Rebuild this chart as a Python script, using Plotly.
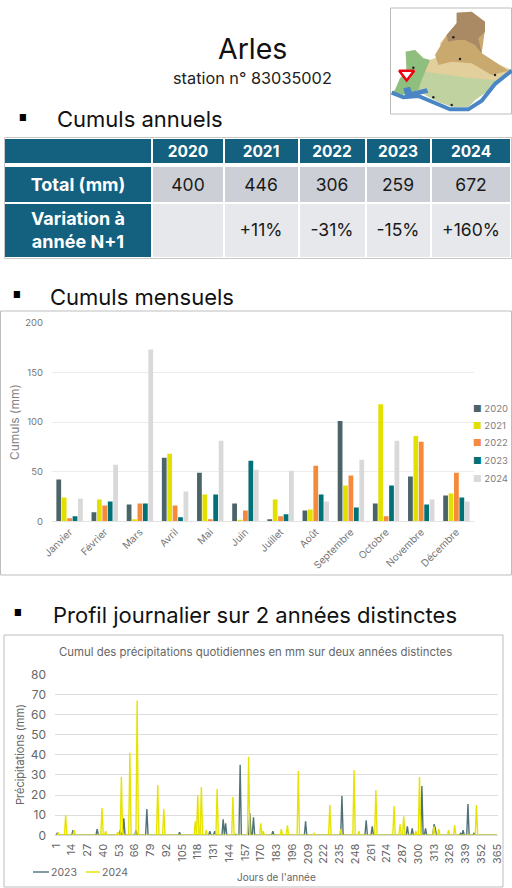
import plotly.graph_objects as go

W, H = 512, 888
FONT = "Inter"

def px(x): return x / W
def py(y): return 1 - y / H

# ---- table data
table_header = ["", "2020", "2021", "2022", "2023", "2024"]
row_labels = ["Total (mm)", "Variation à<br>année N+1"]
totals = ["400", "446", "306", "259", "672"]
variations = ["", "+11%", "-31%", "-15%", "+160%"]
col_edges = [4, 151.5, 223.5, 299, 365.5, 430.5, 511]
row_edges = [138, 163.5, 166, 203, 257.5]

# ---- monthly data
months = ["Janvier", "Février", "Mars", "Avril", "Mai", "Juin", "Juillet", "Août",
          "Septembre", "Octobre", "Novembre", "Décembre"]
m2020 = [42, 9, 17, 64, 49, 18, 2, 11, 101, 18, 45, 26]
m2021 = [24, 22, 2, 68, 27, 1, 22, 12, 36, 118, 86, 28]
m2022 = [3, 16, 18, 16, 2, 11, 5, 56, 46, 5, 80, 49]
m2023 = [5, 20, 18, 4, 27, 61, 7, 27, 14, 36, 17, 24]
m2024 = [23, 57, 173, 30, 81, 52, 51, 20, 62, 81, 22, 20]
year_names = ["2020", "2021", "2022", "2023", "2024"]
year_colors = ["#4A6468", "#E3E000", "#F58A3A", "#007176", "#D9D9D9"]

# ---- daily data (days with rain only)
days_2023 = [2, 15, 35, 54, 57, 67, 76, 103, 128, 132, 139, 141, 149, 153, 161, 164, 180,
             207, 237, 257, 262, 291, 295, 303, 306, 313, 314, 335, 337, 341, 346]
rain_2023 = [1, 2.5, 3, 2.5, 8.5, 2.5, 13, 1.5, 2, 2, 8, 6, 0.5, 35, 11, 9, 2,
             7, 19.5, 7.5, 4.5, 4.5, 3.5, 24.5, 3.5, 5.5, 3.5, 1, 2.5, 15.5, 1]
days_2024 = [3, 9, 16, 39, 42, 52, 55, 62, 68, 85, 90, 116, 118, 121, 125, 134, 147, 160,
             170, 172, 187, 192, 201, 214, 227, 236, 247, 251, 265, 280, 285, 288,
             298, 301, 313, 317, 325, 330, 348]
rain_2024 = [1, 10, 2.5, 13.5, 2, 1.5, 29, 41, 67, 25, 13, 7, 20, 24, 2.5, 23, 19, 39,
             6, 2, 3, 5, 32, 1, 15, 3, 32.5, 2, 22.5, 14.5, 5.5, 9.5,
             2, 29, 4.5, 3, 2.5, 5, 15]
all_days = list(range(1, 366))
tick_days = list(range(1, 366, 13))
series_2023 = [dict(zip(days_2023, rain_2023)).get(d, 0) for d in all_days]
series_2024 = [dict(zip(days_2024, rain_2024)).get(d, 0) for d in all_days]

# ---- inset map outline (schematic)
region_x = [30, 45, 65, 62, 90, 115, 135, 175, 165, 185, 215, 215, 260, 300, 300, 280, 290, 345, 380, 350, 320, 270, 250, 200, 160, 130, 100, 50, 20, 30]
region_y = [270, 235, 215, 155, 150, 175, 180, 165, 130, 105, 70, 38, 35, 65, 95, 115, 160, 195, 210, 240, 265, 300, 320, 320, 305, 290, 270, 285, 275, 270]
mid_x = [150, 170, 185, 215, 300, 290, 345, 370, 320, 260, 200, 160]
mid_y = [165, 130, 105, 70, 90, 160, 195, 212, 225, 190, 185, 195]
alps_x = [185, 215, 215, 260, 300, 300, 280, 290, 270, 240, 215, 190]
alps_y = [105, 70, 38, 35, 65, 95, 115, 160, 135, 120, 120, 125]
camargue_x = [30, 45, 65, 62, 90, 115, 135, 120, 110, 100, 50, 20, 30]
camargue_y = [270, 235, 215, 155, 150, 175, 180, 215, 240, 270, 285, 275, 270]
south_x = [120, 190, 260, 330, 350, 320, 270, 250, 200, 160, 130, 100, 110]
south_y = [215, 225, 235, 240, 240, 265, 300, 320, 320, 305, 290, 270, 240]
lake_x = [55, 75, 80, 125, 130, 100, 60]
lake_y = [265, 260, 275, 265, 278, 285, 285]
coast_x = [20, 55, 100, 145, 195, 250, 290, 330, 380]
coast_y = [278, 292, 288, 308, 328, 328, 302, 252, 212]
city_x = [205, 225, 85, 145, 200, 330]
city_y = [112, 177, 203, 292, 315, 225]
marker_x = [65]
marker_y = [222]

fig = go.Figure()

# table: two heatmaps on non-uniform cell edges (white bold labels / dark body values)
head_z = [[0] * 6, [None] * 6, [0] + [None] * 5, [0] + [None] * 5]
head_text = [[f'<b><span style="font-size:15.5px">{h}</span></b>' for h in table_header], [""] * 6,
             [f"<b>{row_labels[0]}</b>"] + [""] * 5, [f"<b>{row_labels[1]}</b>"] + [""] * 5]
body_z = [[None] * 6, [None] * 6, [None] + [1] * 5, [None] + [2] * 5]
body_text = [[""] * 6, [""] * 6, [""] + totals, [""] + variations]
scale = [[0, "#14607F"], [0.5, "#CCD0D6"], [1, "#E6E8EB"]]
fig.add_trace(go.Heatmap(x=col_edges, y=row_edges, z=head_z, text=head_text, texttemplate="%{text}",
                         textfont=dict(family=FONT, size=18, color="white"),
                         colorscale=scale, zmin=0, zmax=2, showscale=False, xgap=2, ygap=2,
                         hoverinfo="skip", xaxis="x4", yaxis="y4"))
fig.add_trace(go.Heatmap(x=col_edges, y=row_edges, z=body_z, text=body_text, texttemplate="%{text}",
                         textfont=dict(family=FONT, size=17.5, color="#1a1a1a"),
                         colorscale=scale, zmin=0, zmax=2, showscale=False, xgap=2, ygap=2,
                         hoverinfo="skip", xaxis="x4", yaxis="y4"))

# monthly bars
for name, vals, col in zip(year_names, [m2020, m2021, m2022, m2023, m2024], year_colors):
    fig.add_trace(go.Bar(x=months, y=vals, name=name, marker_color=col, marker_line_width=0,
                         xaxis="x", yaxis="y", showlegend=False))

# daily lines
fig.add_trace(go.Scatter(x=all_days, y=series_2023, name="2023", mode="lines", showlegend=False,
                         line=dict(color="#4F7278", width=1.4), xaxis="x2", yaxis="y2"))
fig.add_trace(go.Scatter(x=all_days, y=series_2024, name="2024", mode="lines", showlegend=False,
                         line=dict(color="#E6E300", width=1.4), xaxis="x2", yaxis="y2"))

# map
def poly(xs, ys, col):
    fig.add_trace(go.Scatter(x=xs, y=ys, mode="lines", fill="toself", fillcolor=col, line=dict(width=0, color=col),
                             xaxis="x3", yaxis="y3", showlegend=False, hoverinfo="skip"))
poly(region_x, region_y, "#E2CF9C")
poly(mid_x, mid_y, "#C9A96E")
poly(alps_x, alps_y, "#A98A64")
poly(south_x, south_y, "#BFD2A0")
poly(camargue_x, camargue_y, "#8FBF7F")
poly(lake_x, lake_y, "#4A86C5")
fig.add_trace(go.Scatter(x=coast_x, y=coast_y, mode="lines", line=dict(color="#4A86C5", width=4),
                         xaxis="x3", yaxis="y3", showlegend=False, hoverinfo="skip"))
fig.add_trace(go.Scatter(x=city_x, y=city_y, mode="markers", marker=dict(color="#222", size=2.5),
                         xaxis="x3", yaxis="y3", showlegend=False, hoverinfo="skip"))
fig.add_trace(go.Scatter(x=marker_x, y=marker_y, mode="markers",
                         marker=dict(symbol="triangle-down", size=13, color="white", line=dict(color="#F00010", width=2.5)),
                         xaxis="x3", yaxis="y3", showlegend=False, hoverinfo="skip"))

def frame(x0, y0, x1, y1, col="#BDBDBD", w=1):
    return dict(type="rect", xref="paper", yref="paper", x0=px(x0), x1=px(x1), y0=py(y0), y1=py(y1),
                line=dict(color=col, width=w), fillcolor="rgba(0,0,0,0)", layer="below")

def hline(x0, x1, y, col):
    return dict(type="line", xref="paper", yref="paper", x0=px(x0), x1=px(x1), y0=py(y), y1=py(y),
                line=dict(color=col, width=1.4))

def text(x, y, s, size, col="#111", anchor="left", angle=0):
    return dict(x=px(x), y=py(y), xref="paper", yref="paper", text=s, showarrow=False, xanchor=anchor, yanchor="middle",
                textangle=angle, font=dict(family=FONT, size=size, color=col))

annotations = [
    text(252, 48, "Arles", 28.5, anchor="center"),
    text(252, 78, "station n° 83035002", 16.3, "#222", anchor="center"),
    text(17, 118, "■", 8.5, "#000"), text(55, 119, "Cumuls annuels", 22),
    text(11, 295, "■", 8.5, "#000"), text(48, 297, "Cumuls mensuels", 22),
    text(12, 613, "■", 8.5, "#000"), text(51, 615, "Profil journalier sur 2 années distinctes", 22),
    text(15, 422, "Cumuls (mm)", 12, "#7F7F7F", anchor="center", angle=-90),
    text(20, 755, "Précipitations (mm)", 11, "#666", anchor="center", angle=-90),
    text(255, 652, "Cumul des précipitations quotidiennes en mm sur deux années distinctes", 11.4, "#666", anchor="center"),
    text(276, 877, "Jours de l'année", 10, "#666", anchor="center"),
    text(49, 872, "2023", 10.5, "#666"), text(100, 872, "2024", 10.5, "#666"),
]
for i, (name, col) in enumerate(zip(year_names, year_colors)):
    annotations.append(text(471, 408 + i * 17.5, f'<span style="color:{col}">■</span> {name}', 9.5, "#808080"))

fig.update_layout(
    width=W, height=H, autosize=False, margin=dict(l=0, r=0, t=0, b=0, autoexpand=False),
    paper_bgcolor="white", plot_bgcolor="white", barmode="group", bargap=0.23, bargroupgap=0.12,
    font=dict(family=FONT), showlegend=False,
    xaxis=dict(domain=[px(52), px(474)], anchor="y", tickangle=-45, showgrid=False, showline=True, linecolor="#E3E3E3",
               ticks="", tickfont=dict(size=10, color="#777")),
    yaxis=dict(domain=[py(521.3), py(322.7)], anchor="x", range=[0, 200], tickvals=[0, 50, 100, 150, 200],
               gridcolor="#ECECEC", zeroline=False, ticks="", ticklabelstandoff=8, tickfont=dict(size=9.5, color="#777")),
    xaxis2=dict(domain=[px(55), px(498)], anchor="y2", range=[0.2, 365.8], tickmode="array", tickvals=tick_days,
                tickangle=-90, showgrid=False, showline=True, linecolor="#DDDDDD", ticks="", ticklabelstandoff=3,
                tickfont=dict(size=11, color="#666")),
    yaxis2=dict(domain=[py(835.3), py(674.3)], anchor="x2", range=[0, 80], dtick=10, gridcolor="#DDDDDD", zeroline=False,
                ticks="", ticklabelstandoff=8, tickfont=dict(size=12, color="#666")),
    xaxis3=dict(domain=[px(385), px(512)], anchor="y3", range=[0, 381], visible=False),
    yaxis3=dict(domain=[py(120), py(0)], anchor="x3", range=[360, 0], visible=False),
    xaxis4=dict(domain=[px(4), px(511)], anchor="y4", range=[4, 511], visible=False),
    yaxis4=dict(domain=[py(258), py(138)], anchor="x4", range=[258, 138], visible=False),
    shapes=[frame(0.5, 311, 511.5, 575), frame(4, 635, 503, 887), frame(390.5, 8, 511.5, 114),
            frame(4.5, 137.5, 511.5, 258.5, "#C8C8C8"),
            hline(33, 49, 872, "#4F7278"), hline(86, 100, 872, "#E6E300")],
    annotations=annotations,
)

fig.write_html("out.html", config=dict(displayModeBar=False),
               post_script="document.body.style.margin='0';document.body.style.overflow='hidden';")
